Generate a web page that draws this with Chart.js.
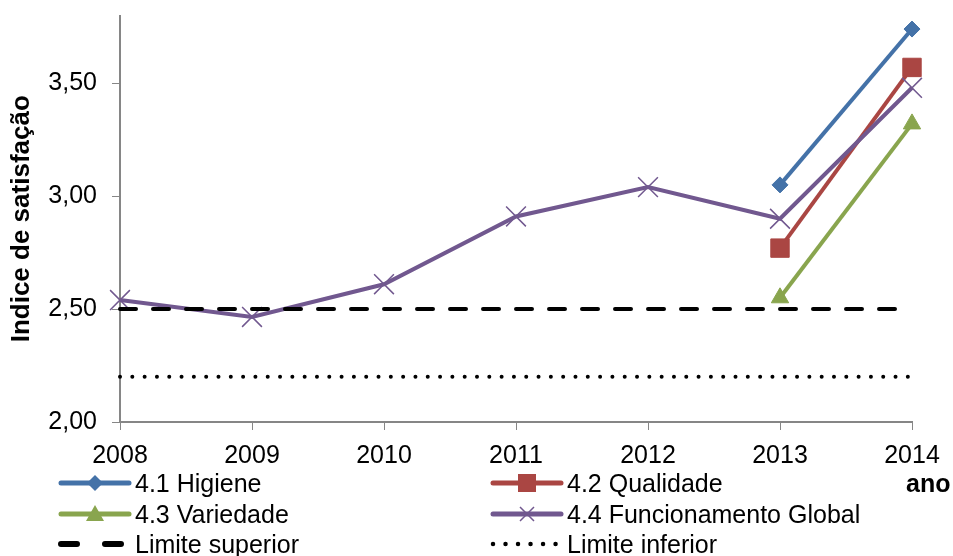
<!DOCTYPE html>
<html>
<head>
<meta charset="utf-8">
<script src="https://cdn.jsdelivr.net/npm/chart.js@4/dist/chart.umd.min.js"></script>
<style>
  body { margin: 0; background: #fff; }
  #wrap { position: relative; width: 953px; height: 556px; font-family: "Liberation Sans", Arial, sans-serif; }
  .leg { position: absolute; display: flex; align-items: center; font-size: 25px; color: #000; height: 30px; white-space: nowrap; }
  .leg svg { margin-right: 3px; }
  #ano { position: absolute; left: 906px; top: 468px; font-size: 25px; font-weight: bold; line-height: 30px; }
</style>
</head>
<body>
<div id="wrap">
  <canvas id="myChart" width="953" height="556"></canvas>
  <div id="legend"></div>
  <div id="ano">ano</div>
</div>
<script>
var anos = ['2008', '2009', '2010', '2011', '2012', '2013', '2014'];
var higiene = [null, null, null, null, null, 3.05, 3.74];
var qualidade = [null, null, null, null, null, 2.77, 3.57];
var variedade = [null, null, null, null, null, 2.55, 3.32];
var funcionamento = [2.54, 2.465, 2.61, 2.91, 3.04, 2.90, 3.48];
var limiteSuperior = [2.5, 2.5, 2.5, 2.5, 2.5, 2.5, 2.5];
var limiteInferior = [2.2, 2.2, 2.2, 2.2, 2.2, 2.2, 2.2];
var yTicks = [2.0, 2.5, 3.0, 3.5];

var azul = '#4472A8', vermelho = '#AA4643', verde = '#89A54E', roxo = '#71588F';

function serie(label, data, color, style, radius, order) {
    return {
        label: label,
        data: data,
        borderColor: color,
        backgroundColor: color,
        borderWidth: 4,
        pointStyle: style,
        pointRadius: radius,
        pointHoverRadius: radius,
        pointBorderWidth: style == 'crossRot' ? 1.5 : 1,
        pointBackgroundColor: color,
        pointBorderColor: color,
        tension: 0,
        order: order
    };
}

var ctx = document.getElementById('myChart').getContext('2d');
var myChart = new Chart(ctx, {
    type: 'line',
    data: {
        labels: anos,
        datasets: [
            serie('4.1 Higiene', higiene, azul, 'rectRot', 8, 6),
            serie('4.2 Qualidade', qualidade, vermelho, 'rect', 13, 5),
            serie('4.3 Variedade', variedade, verde, 'triangle', 10, 4),
            serie('4.4 Funcionamento Global', funcionamento, roxo, 'crossRot', 14, 3),
            {
                label: 'Limite superior',
                data: limiteSuperior,
                borderColor: '#000',
                borderWidth: 4,
                borderDash: [16, 17],
                borderCapStyle: 'round',
                pointRadius: 0,
                order: 2
            },
            {
                label: 'Limite inferior',
                data: limiteInferior,
                borderColor: '#000',
                borderWidth: 4,
                borderDash: [0.01, 12.3],
                borderCapStyle: 'round',
                pointRadius: 0,
                order: 1
            }
        ]
    },
    options: {
        responsive: false,
        animation: false,
        layout: { padding: { top: 15, right: 41, left: 0, bottom: 0 } },
        plugins: {
            legend: { display: false },
            tooltip: { enabled: false }
        },
        scales: {
            x: {
                offset: false,
                grid: { drawOnChartArea: false, drawTicks: true, tickLength: 8, color: '#868686', lineWidth: 1 },
                border: { color: '#868686', width: 2 },
                ticks: { color: '#000', font: { family: 'Liberation Sans', size: 25 }, padding: 11, maxRotation: 0, autoSkip: false },
                afterFit: function(s) { s.height = 134; }
            },
            y: {
                min: 2,
                max: 3.8,
                grid: { drawOnChartArea: false, drawTicks: true, tickLength: 8, color: '#868686', lineWidth: 1 },
                border: { color: '#868686', width: 2 },
                ticks: {
                    color: '#000',
                    font: { family: 'Liberation Sans', size: 25 },
                    padding: 15,
                    callback: function(v) { return v.toFixed(2).replace('.', ','); }
                },
                afterBuildTicks: function(s) {
                    s.ticks = yTicks.map(function(v) { return { value: v }; });
                },
                title: {
                    display: true,
                    text: 'Indice de satisfação',
                    color: '#000',
                    font: { family: 'Liberation Sans', size: 26, weight: 'bold' },
                    padding: { top: 6, bottom: 0 }
                },
                afterFit: function(s) {
                    s.width = 120;
                    s.paddingTop = 0;
                    s.paddingBottom = 0;
                }
            }
        }
    }
});

// legenda em HTML, como no original
var itens = [
    { t: '4.1 Higiene', c: azul, m: 'diamond', x: 58, y: 468 },
    { t: '4.2 Qualidade', c: vermelho, m: 'square', x: 490, y: 468 },
    { t: '4.3 Variedade', c: verde, m: 'triangle', x: 58, y: 499 },
    { t: '4.4 Funcionamento Global', c: roxo, m: 'cross', x: 490, y: 499 },
    { t: 'Limite superior', c: '#000', m: 'dash', x: 58, y: 529 },
    { t: 'Limite inferior', c: '#000', m: 'dot', x: 490, y: 529 }
];
function icone(it) {
    var s = '<svg width="74" height="26" viewBox="0 0 74 26">';
    if (it.m == 'dash') {
        s += '<line x1="3" y1="13" x2="70" y2="13" stroke="#000" stroke-width="6" stroke-linecap="round" stroke-dasharray="16 28"/>';
    } else if (it.m == 'dot') {
        s += '<line x1="3" y1="13" x2="66" y2="13" stroke="#000" stroke-width="4.5" stroke-linecap="round" stroke-dasharray="0.01 12.5"/>';
    } else {
        s += '<line x1="3" y1="13" x2="71" y2="13" stroke="' + it.c + '" stroke-width="5" stroke-linecap="round"/>';
        if (it.m == 'diamond') s += '<polygon points="37,5 45,13 37,21 29,13" fill="' + it.c + '"/>';
        if (it.m == 'square') s += '<rect x="28" y="4" width="18" height="18" fill="' + it.c + '"/>';
        if (it.m == 'triangle') s += '<polygon points="37,4 46,20 28,20" fill="' + it.c + '"/>';
        if (it.m == 'cross') s += '<path d="M30 6 L44 20 M44 6 L30 20" stroke="' + it.c + '" stroke-width="1.5"/>';
    }
    return s + '</svg>';
}
var leg = document.getElementById('legend');
itens.forEach(function(it) {
    var d = document.createElement('div');
    d.className = 'leg';
    d.style.left = it.x + 'px';
    d.style.top = it.y + 'px';
    d.innerHTML = icone(it) + '<span>' + it.t + '</span>';
    leg.appendChild(d);
});
</script>
</body>
</html>
